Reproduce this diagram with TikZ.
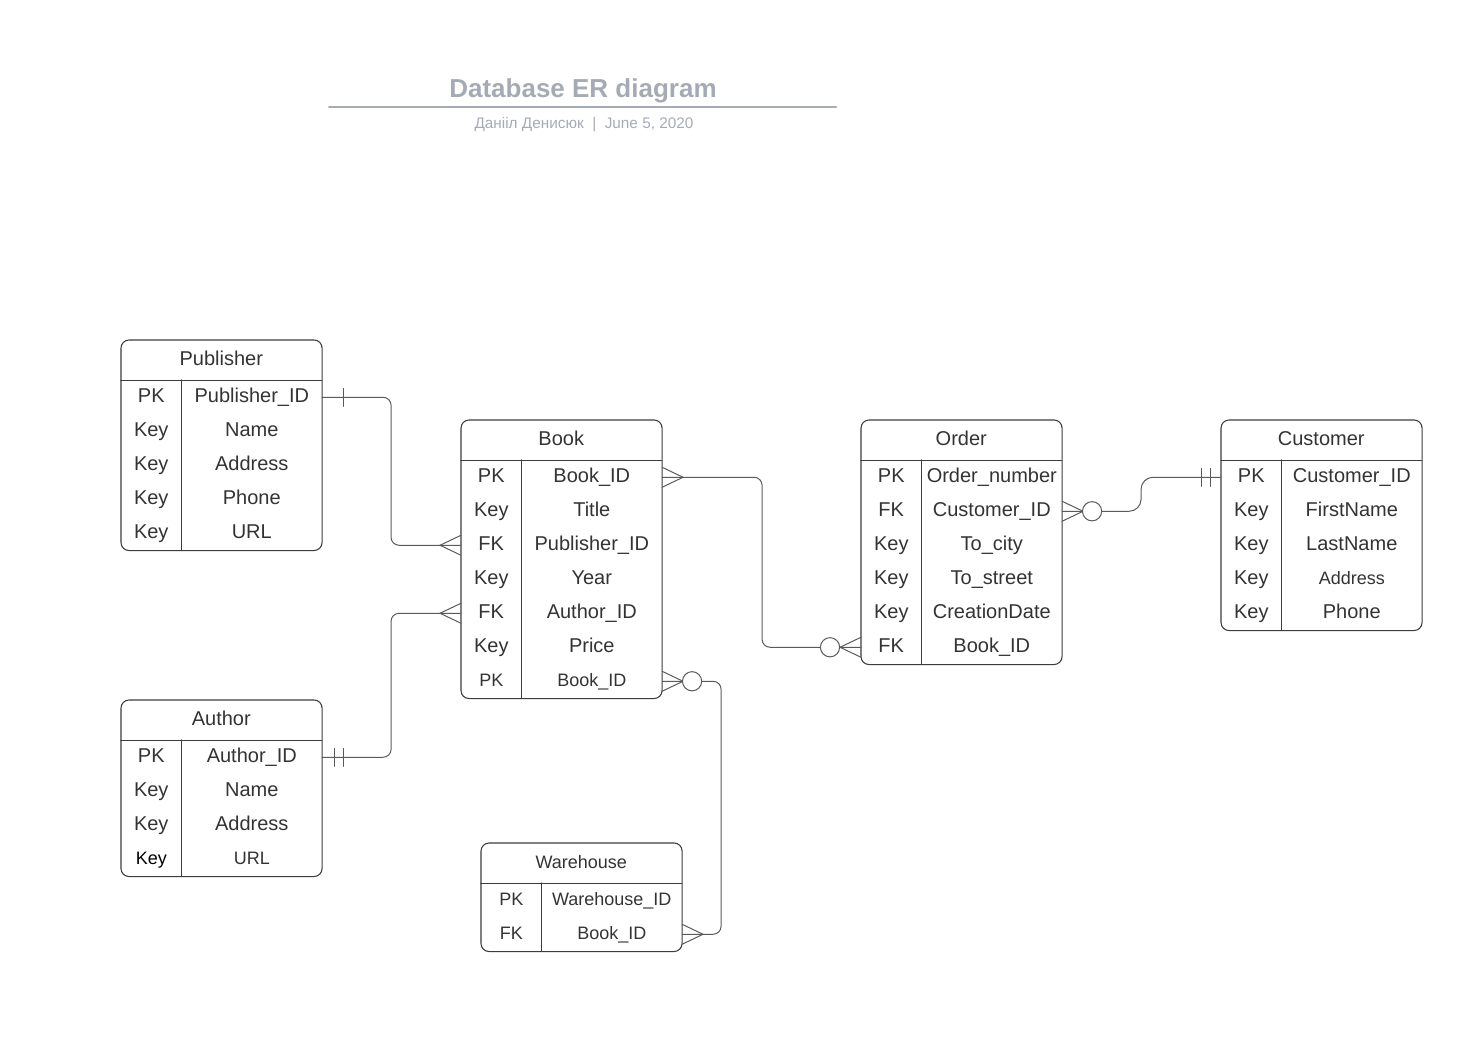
\documentclass[tikz,border=0pt]{standalone}
\usepackage{fontspec}
\setmainfont{Liberation Sans}
\usetikzlibrary{calc}

\begin{document}
\begin{tikzpicture}[
    x=0.75pt,
    y=-0.75pt,
    line cap=round,
    line join=round,
]
\definecolor{erText}{HTML}{333333}
\definecolor{erStroke}{HTML}{3C3C3C}
\definecolor{erLink}{HTML}{5A5A5A}
\definecolor{erTitle}{HTML}{A5ABB5}

\tikzset{
    tablebox/.style={draw=erStroke,line width=0.8pt,rounded corners=6pt},
    tablehead/.style={minimum width=150pt,minimum height=30pt,inner sep=0pt,text=erText,font=\fontsize{15}{18}\selectfont,text height=11.25pt,text depth=3.75pt},
    keycell/.style={minimum width=45pt,minimum height=25.5pt,inner sep=0pt,text=erText,font=\fontsize{15}{18}\selectfont,text height=11.25pt,text depth=3.75pt},
    fieldcell/.style={keycell,minimum width=105pt},
    rel/.style={draw=erLink,line width=0.75pt},
    titletext/.style={text=erTitle,anchor=base},
}

\newcommand{\smallcell}{\fontsize{13.5}{16}\selectfont}

\newcommand{\ertable}[6]{
    \node[tablehead,anchor=north west] (#1) at (#2,#3) {#5};
    \foreach [count=\i] \k/\f in {#6} {
        \node[keycell,anchor=north west] (#1-k\i) at (#2,{#3+6+34*\i}) {\k};
        \node[fieldcell,anchor=west] (#1-\i) at (#1-k\i.east) {\f};
    }
    \draw[tablebox] (#1.north west) rectangle (#1-#4.south east);
    \draw[tablebox] (#1.south west) -- (#1.south east);
    \draw[tablebox] (#1-k1.north east) -- (#1-k#4.south east);
}

\newcommand{\manyend}[2]{
    \draw[rel] ($(#1)+(#2*21,0)$) -- ($(#1)+(0,-10)$);
    \draw[rel] ($(#1)+(#2*21,0)$) -- ($(#1)+(0,10)$);
}

\newcommand{\barmark}[2]{
    \draw[rel] ($(#1)+(#2,-9)$) -- ($(#1)+(#2,9)$);
}

\newcommand{\ringmark}[2]{
    \draw[rel,fill=white] ($(#1)+(#2,0)$) circle (7.2pt);
}

\useasboundingbox (0,0) rectangle (1461,1041);

\node[titletext,font=\bfseries\fontsize{19.5}{22}\selectfont] (title) at (583,98) {Database ER diagram};
\draw[draw=erTitle,line width=1.5pt] (329,107) -- (836,107);
\node[titletext,font=\fontsize{11.5}{14}\selectfont] (subtitle) at (584,129) {Данііл Денисюк \ | \ June 5, 2020};

\ertable{pub}{121}{340}{5}{Publisher}{PK/Publisher\_ID, Key/Name, Key/Address, Key/Phone, Key/URL}
\ertable{book}{461}{420}{7}{Book}{PK/Book\_ID, Key/Title, FK/Publisher\_ID, Key/Year, FK/Author\_ID, Key/Price, \smallcell PK/\smallcell Book\_ID}
\ertable{ord}{861}{420}{6}{Order}{PK/Order\_number, FK/Customer\_ID, Key/To\_city, Key/To\_street, Key/CreationDate, FK/Book\_ID}
\ertable{cust}{1221}{420}{5}{Customer}{PK/Customer\_ID, Key/FirstName, Key/LastName, Key/\smallcell Address, Key/Phone}
\ertable{auth}{121}{700}{4}{Author}{PK/Author\_ID, Key/Name, Key/Address, \color{black}\smallcell Key/\smallcell URL}
\ertable{wh}{481}{843}{2}{\smallcell Warehouse}{\smallcell PK/\smallcell Warehouse\_ID, \smallcell FK/\smallcell Book\_ID}

% relations
\draw[rel,rounded corners=6pt] (pub-1.east) -- ++(69,0) |- (book-k3.west);
\draw[rel,rounded corners=6pt] (auth-1.east) -- ++(69,0) |- (book-k5.west);
\draw[rel,rounded corners=6pt] (book-1.east) -- ++(100,0) |- (ord-k6.west);
\draw[rel,rounded corners=9pt] (ord-2.east) -- ++(79,0) |- (cust-k1.west);
\draw[rel,rounded corners=6pt] (book-7.east) -- ++(59,0) |- (wh-2.east);

\barmark{pub-1.east}{21}
\manyend{book-k3.west}{-1}

\barmark{auth-1.east}{12}
\barmark{auth-1.east}{21}
\manyend{book-k5.west}{-1}

\manyend{book-1.east}{1}
\manyend{ord-k6.west}{-1}
\ringmark{ord-k6.west}{-31}

\manyend{ord-2.east}{1}
\ringmark{ord-2.east}{30}
\barmark{cust-k1.west}{-11}
\barmark{cust-k1.west}{-20}

\manyend{book-7.east}{1}
\ringmark{book-7.east}{30}
\manyend{wh-2.east}{1}
\end{tikzpicture}
\end{document}
